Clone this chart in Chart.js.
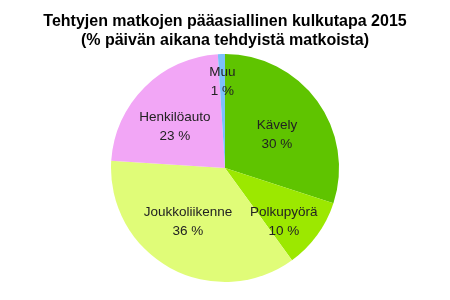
<!DOCTYPE html>
<html>
<head>
<meta charset="utf-8">
<script src="https://cdn.jsdelivr.net/npm/chart.js@4"></script>
<style>
  html, body { margin: 0; padding: 0; background: #fff; }
  #wrap { width: 450px; height: 300px; }
</style>
</head>
<body>
<div id="wrap"><canvas id="pieChart" width="450" height="300"></canvas></div>
<script>
const categories = ["Kävely", "Polkupyörä", "Joukkoliikenne", "Henkilöauto", "Muu"];
const shares = [30, 10, 36, 23, 1];
const titleLines = ["Tehtyjen matkojen pääasiallinen kulkutapa 2015", "(% päivän aikana tehdyistä matkoista)"];

const colors = ["#5fc400", "#9ce800", "#e0fc78", "#f2a6f6", "#7cc0fa"];
// where each label sits: share of the radius, and a small turn off the slice middle
const labelRadius = [0.54, 0.70, 0.575, 0.57, 0.76];
const labelAngleShift = [0.063, 0.113, 0.098, -0.098, 0];

const sliceLabels = {
  id: "sliceLabels",
  afterDatasetsDraw(chart) {
    const ctx = chart.ctx;
    const meta = chart.getDatasetMeta(0);
    ctx.save();
    ctx.font = "13.5px 'Liberation Sans', Arial, sans-serif";
    ctx.fillStyle = "#222";
    ctx.textAlign = "center";
    ctx.textBaseline = "middle";
    meta.data.forEach((arc, i) => {
      const mid = (arc.startAngle + arc.endAngle) / 2 + labelAngleShift[i];
      const r = arc.outerRadius * labelRadius[i];
      const x = arc.x + Math.cos(mid) * r;
      const y = arc.y + Math.sin(mid) * r;
      ctx.fillText(categories[i], x, y - 9.5);
      ctx.fillText(shares[i] + " %", x, y + 9.5);
    });
    ctx.restore();
  }
};

new Chart(document.getElementById("pieChart"), {
  type: "pie",
  data: {
    labels: categories,
    datasets: [{
      data: shares,
      backgroundColor: colors,
      borderWidth: 0
    }]
  },
  options: {
    responsive: false,
    animation: false,
    layout: { padding: { top: 0, bottom: 18, left: 0, right: 0 } },
    plugins: {
      legend: { display: false },
      tooltip: { enabled: false },
      title: {
        display: true,
        text: titleLines,
        color: "#000",
        font: { family: "'Liberation Sans', Arial, sans-serif", size: 16, weight: "bold", lineHeight: 1.2 },
        padding: { top: 12, bottom: 3.6 }
      }
    }
  },
  plugins: [sliceLabels]
});
</script>
</body>
</html>
